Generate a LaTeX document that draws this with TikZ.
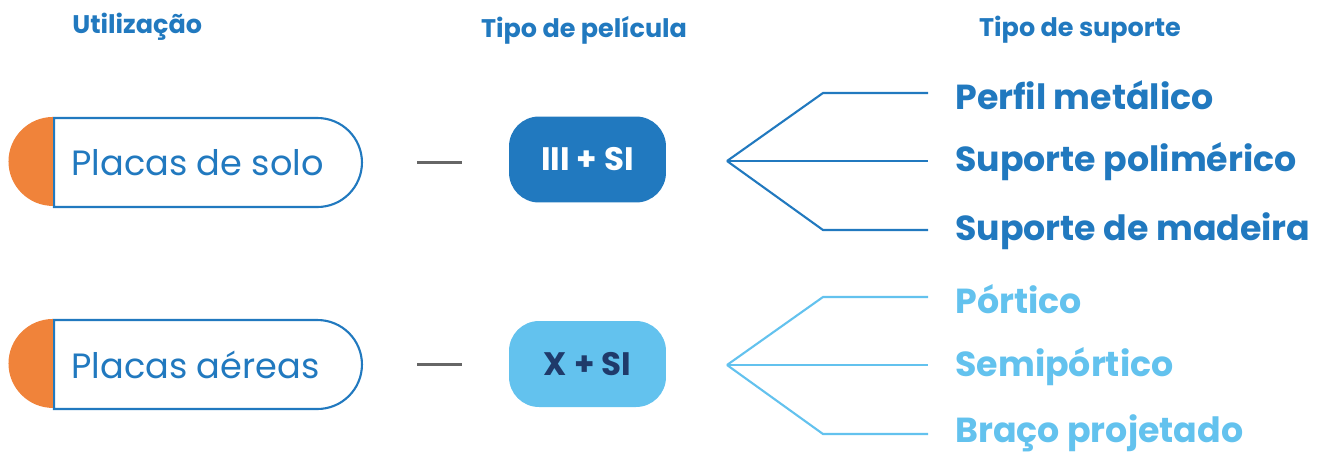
\documentclass[tikz,border=0pt]{standalone}
\usepackage{fontspec}
\setmainfont{Poppins}
\usetikzlibrary{shapes.misc}
\definecolor{azul}{HTML}{2179BF}
\definecolor{celeste}{HTML}{63C2EE}
\definecolor{laranja}{HTML}{F0833A}
\definecolor{marinho}{HTML}{1F3A6A}
\definecolor{cinza}{HTML}{666666}
\tikzset{
    titulo/.style={font=\bfseries\fontsize{14.5}{17}\selectfont, text=azul, inner sep=0pt},
    placa/.style={draw=azul, line width=1.2pt, fill=white, rounded rectangle, rounded rectangle left arc=none,
        minimum width=6.16cm, minimum height=1.78cm, inner sep=0pt},
    nome/.style={font=\fontsize{20}{24}\selectfont, text=azul, inner sep=0pt, anchor=west},
    filme/.style={rounded corners=0.6cm, minimum width=3.14cm, minimum height=1.72cm, inner sep=0pt,
        font=\bfseries\fontsize{18.5}{22}\selectfont},
    suporte/.style={font=\bfseries\fontsize{19.8}{23}\selectfont, inner sep=0pt, anchor=west},
    ramo/.style={line width=1.2pt}
}
\begin{document}
\begin{tikzpicture}[x=0.02cm,y=-0.02cm]
    \useasboundingbox (0,0) rectangle (1326,454);
    % titulos
    \node[titulo, anchor=west] (util) at (72,27) {Utilização};
    \node[titulo] (pelic) at (584,30) {Tipo de película};
    \node[titulo] (sup) at (1080,30) {Tipo de suporte};
    % placas
    \node[placa] (solo) at (208,162.5) {};
    \node[placa] (aereas) at (208,364.5) {};
    \fill[laranja] (solo.north west) arc[start angle=90, end angle=270, radius=0.89cm] -- cycle;
    \fill[laranja] (aereas.north west) arc[start angle=90, end angle=270, radius=0.89cm] -- cycle;
    \node[nome] (tsolo) at ([xshift=0.36cm]solo.west) {Placas de solo};
    \node[nome] (taereas) at ([xshift=0.36cm]aereas.west) {Placas aéreas};
    % peliculas
    \node[filme, fill=azul, text=white] (iii) at (587.5,159.5) {III + SI};
    \node[filme, fill=celeste, text=marinho] (x) at (587.5,364) {X + SI};
    \draw[cinza, line width=1.4pt] ([xshift=1.08cm]solo.east) -- ([xshift=-0.94cm]iii.west |- solo.east);
    \draw[cinza, line width=1.4pt] ([xshift=1.08cm]aereas.east) -- ([xshift=-0.94cm]x.west |- aereas.east);
    % suportes
    \node[suporte, text=azul] (perfil) at (955,95) {Perfil metálico};
    \node[suporte, text=azul] (polim) at (955,162) {Suporte polimérico};
    \node[suporte, text=azul] (madeira) at (955,231) {Suporte de madeira};
    \node[suporte, text=celeste] (portico) at (955,299) {Pórtico};
    \node[suporte, text=celeste] (semi) at (955,367) {Semipórtico};
    \node[suporte, text=celeste] (braco) at (955,433) {Braço projetado};
    \coordinate (a1) at (727,161);
    \coordinate (a2) at (727,365);
    \draw[ramo, azul] (a1) -- (823,93) -- ([xshift=-0.54cm]perfil.west |- 0,93);
    \draw[ramo, azul] (a1) -- ([xshift=-0.54cm]polim.west |- 0,161);
    \draw[ramo, azul] (a1) -- (823,230) -- ([xshift=-0.54cm]madeira.west |- 0,230);
    \draw[ramo, celeste] (a2) -- (823,297) -- ([xshift=-0.54cm]portico.west |- 0,297);
    \draw[ramo, celeste] (a2) -- ([xshift=-0.54cm]semi.west |- 0,365);
    \draw[ramo, celeste] (a2) -- (823,434) -- ([xshift=-0.54cm]braco.west |- 0,434);
\end{tikzpicture}
\end{document}
